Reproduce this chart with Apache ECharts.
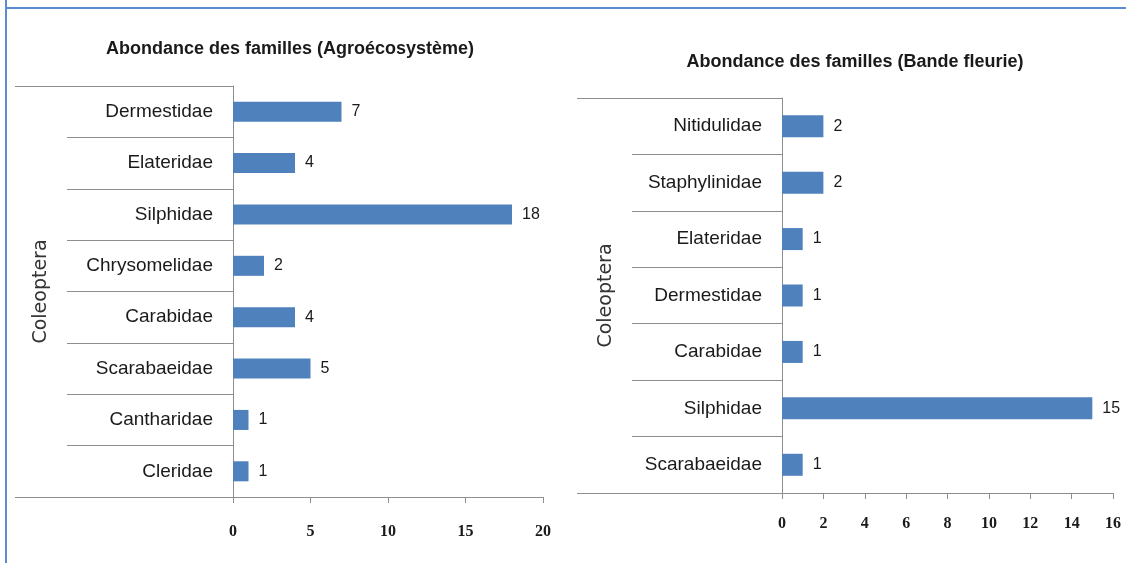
<!DOCTYPE html>
<html>
<head>
<meta charset="utf-8">
<script src="https://cdn.jsdelivr.net/npm/echarts@6/dist/echarts.min.js"></script>
<style>
html,body{margin:0;padding:0;background:#fff;}
#chart{width:1126px;height:563px;}
</style>
</head>
<body>
<div id="chart"></div>
<script>
// Data
const leftTitle = 'Abondance des familles (Agroécosystème)';
const leftCategories = ['Dermestidae','Elateridae','Silphidae','Chrysomelidae','Carabidae','Scarabaeidae','Cantharidae','Cleridae'];
const leftValues = [7,4,18,2,4,5,1,1];
const leftTicks = {min:0, max:20, interval:5};

const rightTitle = 'Abondance des familles (Bande fleurie)';
const rightCategories = ['Nitidulidae','Staphylinidae','Elateridae','Dermestidae','Carabidae','Silphidae','Scarabaeidae'];
const rightValues = [2,2,1,1,1,15,1];
const rightTicks = {min:0, max:16, interval:2};

const groupName = 'Coleoptera';

const barColor = '#4f81bd';
const lineColor = '#8e8e8e';
const textColor = '#1a1a1a';
const catFont = '"Liberation Sans", Arial, sans-serif';
const tickFont = '"Liberation Serif", serif';

const chart = echarts.init(document.getElementById('chart'));

const grids = [
  {left:233, top:86, width:310, height:411},
  {left:782, top:98, width:331, height:395}
];

function yAxisFor(cats, gridIndex, tickLen, nameGap){
  return {
    type:'category', gridIndex, data:cats, inverse:true,
    axisLine:{show:true, lineStyle:{color:lineColor, width:1}},
    axisTick:{show:true, length:tickLen, lineStyle:{color:lineColor, width:1}},
    axisLabel:{fontFamily:catFont, fontSize:19, color:textColor, margin:20},
    name:groupName, nameLocation:'middle', nameRotate:90, nameGap,
    nameTextStyle:{fontFamily:'"DejaVu Sans", sans-serif', fontSize:19, color:'#333'}
  };
}
function xAxisFor(t, gridIndex, margin){
  return {
    type:'value', gridIndex, min:t.min, max:t.max, interval:t.interval,
    axisLine:{show:true, lineStyle:{color:lineColor, width:1}},
    axisTick:{show:true, length:6, lineStyle:{color:lineColor}},
    splitLine:{show:false},
    axisLabel:{fontFamily:tickFont, fontWeight:'bold', fontSize:16, color:textColor, margin}
  };
}

const option = {
  animation:false,
  backgroundColor:'#fff',
  title:[
    {text:leftTitle, left:285, top:35, textAlign:'center',
     textStyle:{fontFamily:catFont, fontWeight:'bold', fontSize:18, color:textColor}},
    {text:rightTitle, left:850, top:48, textAlign:'center',
     textStyle:{fontFamily:catFont, fontWeight:'bold', fontSize:18, color:textColor}}
  ],
  grid:grids,
  xAxis:[xAxisFor(leftTicks,0,27), xAxisFor(rightTicks,1,23)],
  yAxis:[yAxisFor(leftCategories,0,166,182), yAxisFor(rightCategories,1,150,166)],
  series:[
    {type:'bar', xAxisIndex:0, yAxisIndex:0, data:leftValues, barCategoryGap:'61%',
     itemStyle:{color:barColor},
     label:{show:true, position:'right', distance:10, fontFamily:catFont, fontSize:16, color:textColor}},
    {type:'bar', xAxisIndex:1, yAxisIndex:1, data:rightValues, barCategoryGap:'61%',
     itemStyle:{color:barColor},
     label:{show:true, position:'right', distance:10, fontFamily:catFont, fontSize:16, color:textColor}}
  ]
};
chart.setOption(option);

// Extended outer lines (top boundary and bottom axis) computed from the axes
const extLeft = [218, 205];
const graphics = [
  {type:'line', shape:{x1:6, y1:0, x2:6, y2:563}, style:{stroke:'#5b8bd0', lineWidth:2}},
  {type:'line', shape:{x1:6, y1:8, x2:1126, y2:8}, style:{stroke:'#5b8bd0', lineWidth:2}}
];
[0,1].forEach(i=>{
  const xa = {xAxisIndex:i};
  const ya = {yAxisIndex:i};
  const cats = i===0 ? leftCategories : rightCategories;
  const x0 = chart.convertToPixel(xa, 0);
  const yFirst = chart.convertToPixel(ya, cats[0]);
  const yLast = chart.convertToPixel(ya, cats[cats.length-1]);
  const half = (yLast - yFirst) / (cats.length-1) / 2;
  const top = Math.round(yFirst - half) + 0.5;
  const bottom = Math.round(yLast + half) + 0.5;
  graphics.push({type:'line', shape:{x1:x0-extLeft[i], y1:top, x2:x0, y2:top}, style:{stroke:lineColor, lineWidth:1}});
  graphics.push({type:'line', shape:{x1:x0-extLeft[i], y1:bottom, x2:x0, y2:bottom}, style:{stroke:lineColor, lineWidth:1}});
});
chart.setOption({graphic:graphics});
</script>
</body>
</html>
